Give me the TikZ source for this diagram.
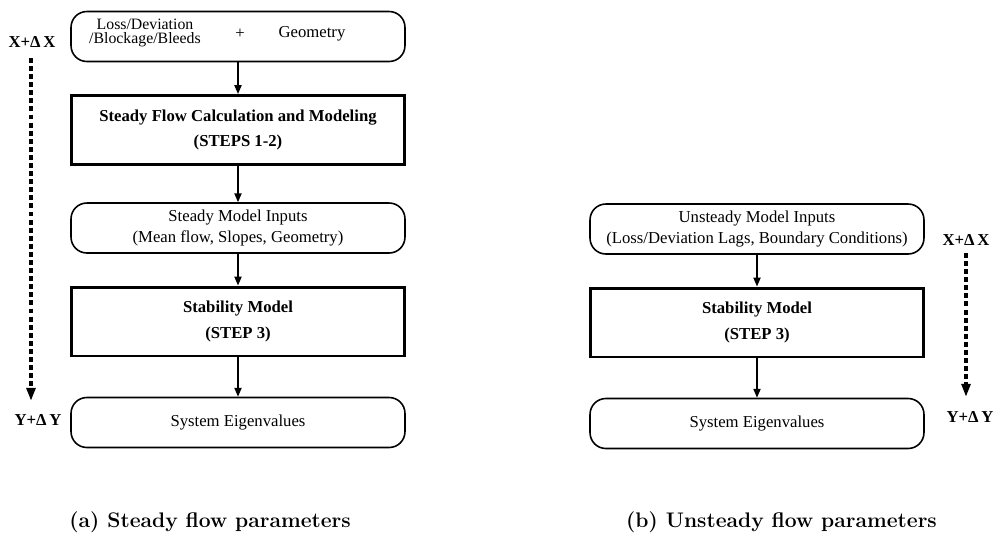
\documentclass[tikz,border=0pt]{standalone}
\usepackage{fontspec}
\newfontfamily\kutufont{Liberation Serif}
\usetikzlibrary{arrows.meta}

\begin{document}
\begin{tikzpicture}[x=0.02cm, y=-0.02cm, font=\kutufont\fontsize{9.5}{12}\selectfont,
    yuvarlak/.style={draw, line width=0.9pt, rounded corners=9pt, align=center,
      minimum width=6.68cm, minimum height=1.0cm, inner sep=0pt},
    kalin/.style={draw, line width=1.7pt, align=center, minimum width=6.68cm,
      minimum height=1.38cm, inner sep=0pt,
      font=\kutufont\bfseries\fontsize{9.5}{14.5}\selectfont},
    ok/.style={-{Triangle[length=5pt,width=4pt]}, line width=0.9pt},
    yon/.style={-{Triangle[length=7.5pt,width=5pt]}, line width=2.1pt,
      dash pattern=on 2.8pt off 1.8pt},
    etiket/.style={font=\kutufont\bfseries\fontsize{9.5}{11}\selectfont},
    altyazi/.style={font=\bfseries\fontsize{12}{14}\selectfont}]
  \useasboundingbox (0,0) rectangle (995,542);

  % (a) sabit akis: soldaki zincir
  \node[yuvarlak] (girdi) at (238,36.5) {};
  \node[align=center, font=\kutufont\fontsize{9}{8.3}\selectfont] (kayip) at (145,33)
    {Loss/Deviation\\/Blockage/Bleeds};
  \node (arti) at (240,34) {+};
  \node (geo) at (312,34) {Geometry};
  \node[kalin] (hesap) at (238,130) {Steady Flow Calculation and Modeling\\(STEPS 1-2)};
  \node[yuvarlak] (sgirdi) at (238,228) {Steady Model Inputs\\(Mean flow, Slopes, Geometry)};
  \node[kalin] (model) at (238,321.5) {Stability Model\\(STEP 3)};
  \node[yuvarlak] (oz) at (238,422.5) {System Eigenvalues};
  \draw[ok] (girdi) -- (hesap);
  \draw[ok] (hesap) -- (sgirdi);
  \draw[ok] (sgirdi) -- (model);
  \draw[ok] (model) -- (oz);

  % sol yon oku
  \node[etiket] (xa) at (32,42) {X+Δ\,X};
  \node[etiket] (ya) at (38,420) {Y+Δ\,Y};
  \coordinate (xbas) at (31,58);
  \coordinate (xson) at (31,401);
  \draw[yon] (xbas) -- (xson);

  % (b) kararsiz akis: sagdaki zincir
  \node[yuvarlak] (ugirdi) at (757,229) {Unsteady Model Inputs\\(Loss/Deviation Lags, Boundary Conditions)};
  \node[kalin] (umodel) at (757,322.5) {Stability Model\\(STEP 3)};
  \node[yuvarlak] (uoz) at (757,423.5) {System Eigenvalues};
  \draw[ok] (ugirdi) -- (umodel);
  \draw[ok] (umodel) -- (uoz);

  % sag yon oku
  \node[etiket] (uxa) at (966,240) {X+Δ\,X};
  \node[etiket] (uya) at (970,417) {Y+Δ\,Y};
  \coordinate (ubas) at (966,253);
  \coordinate (uson) at (966,397);
  \draw[yon] (ubas) -- (uson);

  % alt yazilar
  \node[altyazi, anchor=base east] (capa) at (357,527) {(a) Steady flow parameters};
  \node[altyazi, anchor=base west] (capb) at (620,527) {(b) Unsteady flow parameters};
\end{tikzpicture}
\end{document}
